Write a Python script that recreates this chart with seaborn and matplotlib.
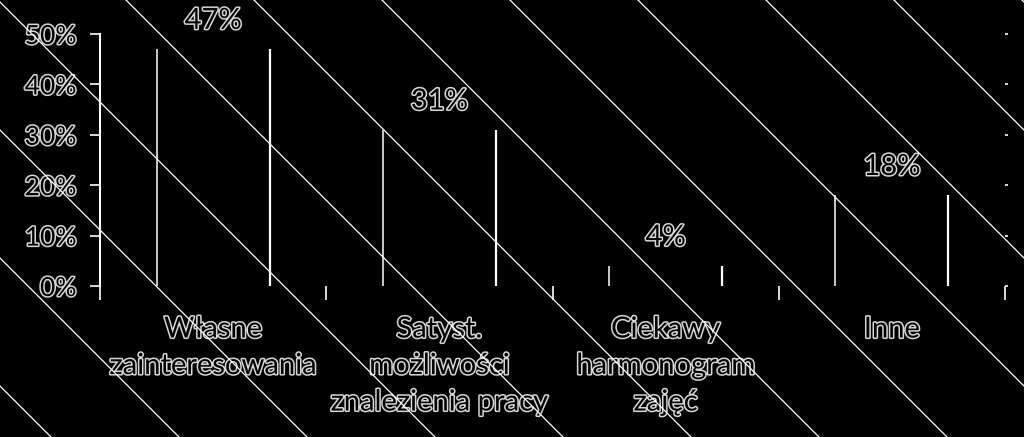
import matplotlib
matplotlib.use("Agg")
import matplotlib.pyplot as plt
import matplotlib.patheffects as pe
from matplotlib.lines import Line2D
import seaborn as sns
import pandas as pd

# dane
categories = ["Własne\nzainteresowania", "Satyst.\nmożliwości\nznalezienia pracy",
              "Ciekawy\nharmonogram\nzajęć", "Inne"]
shares = [0.47, 0.31, 0.04, 0.18]
y_ticks = [0.0, 0.1, 0.2, 0.3, 0.4, 0.5]

sns.set_style("dark")
plt.rcParams["font.family"] = ["Lato", "DejaVu Sans"]
plt.rcParams["font.size"] = 19

outline = [pe.withStroke(linewidth=2.2, foreground="#d8d8d8")]

df = pd.DataFrame({"cat": categories, "share": shares})

fig = plt.figure(figsize=(10.24, 4.37), dpi=100, facecolor="black")

# ukośne linie (nad wykresem, jak w oryginale)
W, H = 1024, 437
for k in range(-4, 12):
    c = 2 - 128 * k
    x0, x1 = -100, 1200
    y0, y1 = x0 + c, x1 + c
    fig.add_artist(Line2D([x0 / W, x1 / W], [1 - y0 / H, 1 - y1 / H],
                          transform=fig.transFigure, color="white", lw=0.9, zorder=5))

ax = fig.add_axes([100 / W, 1 - 286 / H, 905 / W, (286 - 34) / H])
ax.set_facecolor("none")

sns.barplot(data=df, x="cat", y="share", color="black", width=0.5,
            saturation=1, edgecolor="none", linewidth=0, ax=ax, zorder=2)

# tylko pionowe krawędzie słupków
for p in ax.patches:
    xl = p.get_x()
    xr = xl + p.get_width()
    h = p.get_height()
    ax.vlines(xl, 0, h, colors="white", lw=1.1, zorder=3)
    ax.vlines(xr, 0, h, colors="white", lw=1.6, zorder=3)
    ax.annotate(f"{h * 100:.0f}%", (xl + p.get_width() / 2, h), xytext=(0, 11),
                textcoords="offset points", ha="center", va="bottom",
                color="black", fontsize=21, path_effects=outline)

ax.set_xlim(-0.5, len(categories) - 0.5)
ax.set_ylim(0, 0.5)
ax.set_yticks(y_ticks)
ax.set_yticklabels([f"{v * 100:.0f}%" for v in y_ticks])
ax.set_xlabel("")
ax.set_ylabel("")
ax.grid(False)

for s in ["top", "right", "bottom"]:
    ax.spines[s].set_visible(False)
ax.spines["left"].set_color("white")
ax.spines["left"].set_linewidth(1.5)

ax.tick_params(axis="y", which="major", left=True, colors="white", direction="out",
               length=7, width=1.2, labelcolor="black", pad=10)
ax.tick_params(axis="y", which="major", right=True)
ax.tick_params(axis="x", which="major", length=0, pad=22, labelcolor="black",
               labelsize=21)
ax.set_xticks([i - 0.5 for i in range(len(categories) + 1)], minor=True)
ax.tick_params(axis="x", which="minor", bottom=True, colors="white", direction="out",
               length=10, width=1.2)

for t in ax.yaxis.get_major_ticks():
    t.tick2line.set_markersize(2)

for lab in ax.get_yticklabels() + ax.get_xticklabels():
    lab.set_path_effects(outline)
    lab.set_color("black")
for lab in ax.get_xticklabels():
    lab.set_linespacing(1.5)
    lab.set_va("top")

fig.savefig("out.png", dpi=100, facecolor="black")
